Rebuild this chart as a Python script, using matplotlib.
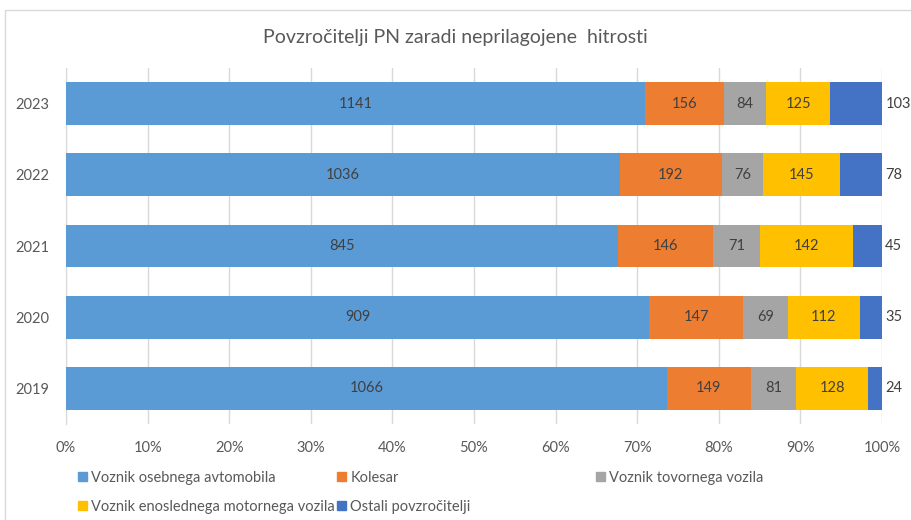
import numpy as np
import matplotlib.pyplot as plt
from matplotlib.patches import Rectangle, Patch

plt.rcParams['font.family'] = ['Lato', 'DejaVu Sans']

years = ['2019', '2020', '2021', '2022', '2023']
osebni = [1066, 909, 845, 1036, 1141]
kolesar = [149, 147, 146, 192, 156]
tovorni = [81, 69, 71, 76, 84]
enosledni = [128, 112, 142, 145, 125]
ostali = [24, 35, 45, 78, 103]

series_names = ['Voznik osebnega avtomobila', 'Kolesar', 'Voznik tovornega vozila',
                'Voznik enoslednega motornega vozila', 'Ostali povzročitelji']
colors = ['#5B9BD5', '#ED7D31', '#A5A5A5', '#FFC000', '#4472C4']

data = np.array([osebni, kolesar, tovorni, enosledni, ostali], dtype=float)
totals = data.sum(axis=0)
shares = data / totals

fig = plt.figure(figsize=(9.11, 5.2), dpi=100)
fig.patches.append(Rectangle((5 / 911, -0.01), 1.0, 1 - 10 / 520 + 0.01, transform=fig.transFigure,
                             fill=False, edgecolor='#D9D9D9', lw=1))
ax = fig.add_axes([66 / 911, 1 - 424 / 520, 816 / 911, 356 / 520])

y = np.arange(len(years))
left = np.zeros(len(years))
handles = []
for i, (name, col) in enumerate(zip(series_names, colors)):
    ax.barh(y, shares[i], left=left, height=0.6, color=col, zorder=3)
    handles.append(Patch(color=col, label=name))
    for j in range(len(years)):
        if i < 4:
            ax.text(left[j] + shares[i][j] / 2, y[j], str(int(data[i][j])),
                    ha='center', va='center', fontsize=10.5, color='#404040', zorder=4)
        else:
            ax.text(1.004, y[j], str(int(data[i][j])), ha='left', va='center',
                    fontsize=10.5, color='#404040', zorder=4)
    left += shares[i]

ax.set_xlim(0, 1)
ax.set_ylim(-0.5, len(years) - 0.5)
ax.set_xticks(np.arange(0, 1.01, 0.1))
ax.set_xticklabels([f'{int(round(v * 100))}%' for v in np.arange(0, 1.01, 0.1)])
ax.set_yticks(y)
ax.set_yticklabels(years)
ax.tick_params(axis='both', length=0, labelsize=10.5, labelcolor='#595959')
ax.tick_params(axis='x', pad=12)
ax.tick_params(axis='y', pad=12)
ax.grid(axis='x', color='#D9D9D9', lw=1, zorder=0)
for s in ['top', 'right', 'bottom']:
    ax.spines[s].set_visible(False)
ax.spines['left'].set_color('#D9D9D9')

fig.text(0.5, 1 - 38 / 520, 'Povzročitelji PN zaradi neprilagojene  hitrosti', ha='center', va='center',
         fontsize=14, color='#595959')

# legend: three equal-width columns like Excel
columns = [[0, 3], [1, 4], [2]]
col_x = [78, 337, 596]
for idx, cx in zip(columns, col_x):
    leg = fig.legend([handles[k] for k in idx], [series_names[k] for k in idx],
                     loc='upper left', bbox_to_anchor=(cx / 911, 1 - 471 / 520), frameon=False,
                     fontsize=10.5, handlelength=0.6, handleheight=0.6, handletextpad=0.3,
                     borderpad=0, borderaxespad=0, labelspacing=1.0, labelcolor='#595959')

fig.savefig('out.png', dpi=100)
